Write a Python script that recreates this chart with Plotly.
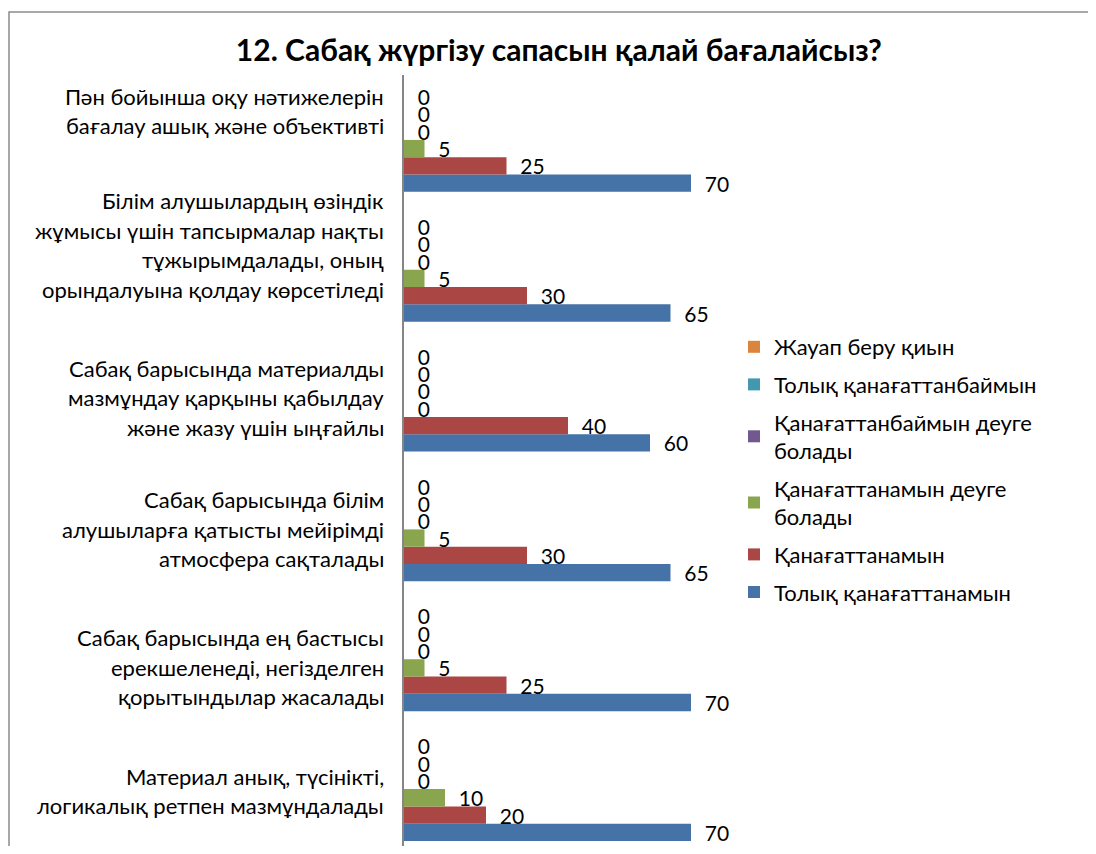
import plotly.graph_objects as go

categories = [
    "Пән бойынша оқу нәтижелерін<br>бағалау ашық және объективті",
    "Білім алушылардың өзіндік<br>жұмысы үшін тапсырмалар нақты<br>тұжырымдалады, оның<br>орындалуына қолдау көрсетіледі",
    "Сабақ барысында материалды<br>мазмұндау қарқыны қабылдау<br>және жазу үшін ыңғайлы",
    "Сабақ барысында білім<br>алушыларға қатысты мейірімді<br>атмосфера сақталады",
    "Сабақ барысында ең бастысы<br>ерекшеленеді, негізделген<br>қорытындылар жасалады",
    "Материал анық, түсінікті,<br>логикалық ретпен мазмұндалады",
]

series_names = [
    "Толық қанағаттанамын",
    "Қанағаттанамын",
    "Қанағаттанамын деуге<br>болады",
    "Қанағаттанбаймын деуге<br>болады",
    "Толық қанағаттанбаймын",
    "Жауап беру қиын",
]

tolyk_kanagattanamyn = [70, 65, 60, 65, 70, 70]
kanagattanamyn = [25, 30, 40, 30, 25, 20]
kanagattanamyn_deuge = [5, 5, 0, 5, 5, 10]
kanagattanbaimyn_deuge = [0, 0, 0, 0, 0, 0]
tolyk_kanagattanbaimyn = [0, 0, 0, 0, 0, 0]
zhauap_beru_kiyn = [0, 0, 0, 0, 0, 0]

series_values = [
    tolyk_kanagattanamyn,
    kanagattanamyn,
    kanagattanamyn_deuge,
    kanagattanbaimyn_deuge,
    tolyk_kanagattanbaimyn,
    zhauap_beru_kiyn,
]

colors = ["#4572A7", "#AA4643", "#89A54E", "#71588F", "#4198AF", "#DB843D"]

FONT = "Lato, 'Noto Sans', sans-serif"

# figure geometry (page body adds an 8px margin)
W, H = 1080, 838
L, R, T = 396, 724, 67
PLOT_H = H - T

fig = go.Figure()
n_series = len(series_names)
for k, (name, vals, col) in enumerate(zip(series_names, series_values, colors)):
    fig.add_trace(go.Bar(
        y=categories, x=vals, name=name, orientation="h",
        legendgroup=f"g{k}", legendrank=n_series - k,
        marker=dict(color=col, line=dict(width=0)),
        text=vals, texttemplate="  %{x}", textposition="outside",
        constraintext="none", cliponaxis=False,
        textfont=dict(family=FONT, size=21, color="black"),
        hoverinfo="x+name",
    ))

# category labels, one annotation per line
label_shift = [29, 25, 2, 0, -8, -2]
LINE = 29.5
for cat, sh in zip(categories, label_shift):
    lines = cat.split("<br>")
    n = len(lines)
    for i, ln in enumerate(lines):
        fig.add_annotation(
            x=0, y=cat, xref="x", yref="y", text=ln, showarrow=False,
            xanchor="right", yanchor="middle", xshift=-18,
            yshift=sh - (i - (n - 1) / 2) * LINE,
            font=dict(family=FONT, size=22, color="black"),
        )

fig.add_shape(type="rect", xref="paper", yref="paper",
              x0=(1 - L) / (R - L), x1=3.0, y0=-0.2, y1=(H - 4) / PLOT_H,
              line=dict(color="#8c8c8c", width=1.5), layer="below")

fig.update_layout(
    width=W, height=H,
    margin=dict(l=L, r=W - R, t=T, b=0, autoexpand=False),
    paper_bgcolor="white", plot_bgcolor="white",
    barmode="group", bargap=0.2, bargroupgap=0,
    title=dict(text="<b>12. Сабақ жүргізу сапасын қалай бағалайсыз?</b>",
               x=0.510, xanchor="center", y=1 - 42 / H, yanchor="middle",
               font=dict(family=FONT, size=30, color="black")),
    legend=dict(x=(726 - L) / (R - L), y=(H - 318) / PLOT_H,
                xanchor="left", yanchor="top",
                traceorder="grouped", tracegroupgap=6,
                bgcolor="rgba(0,0,0,0)",
                font=dict(family=FONT, size=22, color="black")),
    font=dict(family=FONT, color="black"),
    xaxis=dict(range=[0, 80], visible=False, showgrid=False, zeroline=False),
    yaxis=dict(categoryorder="array", categoryarray=list(reversed(categories)),
               range=[-0.5 + 8 / 130, 5.5],
               showticklabels=False, showgrid=False, zeroline=False,
               showline=True, linecolor="#868686", linewidth=1.5,
               ticks=""),
)

fig.write_html("out.html")
